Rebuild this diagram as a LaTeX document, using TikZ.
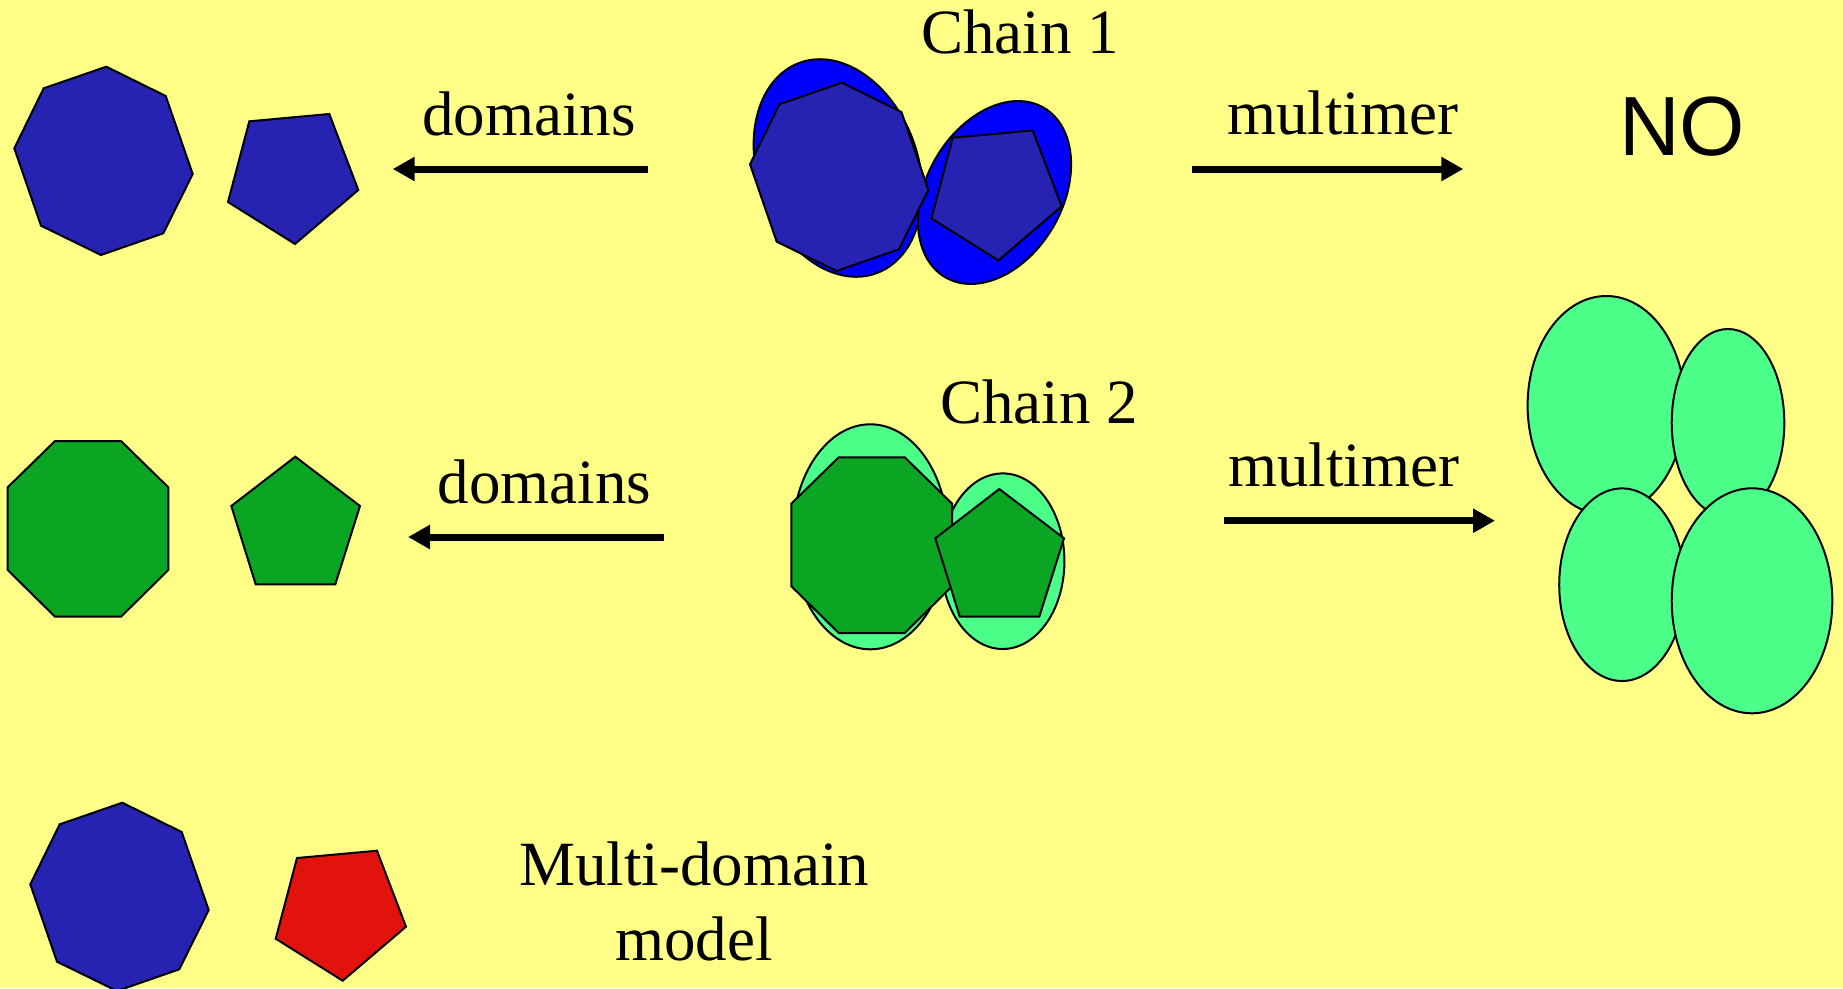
\documentclass[tikz,border=0pt]{standalone}
\usepackage{fontspec}
\setmainfont{Liberation Serif}
\newfontfamily\nofont{Liberation Sans}
\usetikzlibrary{arrows.meta}
\definecolor{bgyellow}{RGB}{255,255,136}
\definecolor{dblue}{RGB}{38,35,178}
\definecolor{bblue}{RGB}{0,0,255}
\definecolor{dgreen}{RGB}{9,165,35}
\definecolor{lgreen}{RGB}{76,255,136}
\definecolor{dred}{RGB}{226,18,12}
\tikzset{
  octA/.pic={\path[pic actions] (106.3,66.7) -- (165.7,96) -- (192.7,174) -- (163.3,233.3) -- (101,255) -- (41,225.7) -- (14.3,148.3) -- (43.7,88.3) -- cycle;},
  pentA/.pic={\path[pic actions] (249.3,121.3) -- (329.3,114) -- (358.3,190) -- (295,244) -- (228,202) -- cycle;},
  octG/.pic={\path[pic actions] (55,441) -- (121,441) -- (168.3,487.3) -- (168.3,570) -- (121,616.7) -- (55,616.7) -- (7.7,570) -- (7.7,487.3) -- cycle;},
  pentG/.pic={\path[pic actions] (295.3,456.7) -- (360,506) -- (335.3,584.3) -- (255.7,584.3) -- (231.3,506) -- cycle;},
}
\begin{document}
\begin{tikzpicture}[x=1pt,y=-1pt,
  poly/.style={draw=black,line width=2pt,line join=miter},
  bluepoly/.style={poly,fill=dblue},
  greenpoly/.style={poly,fill=dgreen},
  redpoly/.style={poly,fill=dred},
  blueell/.style={poly,fill=bblue},
  greenell/.style={poly,fill=lgreen},
  lbl/.style={font=\fontsize{63}{74}\selectfont,inner sep=0pt,anchor=base},
  arr/.style={line width=7pt,-{Triangle[length=22pt,width=23pt]}}]
\fill[bgyellow] (0,0) rectangle (1843,988);
\useasboundingbox (0,0) rectangle (1843,988);

% row 1: separated domains
\pic[bluepoly] (d1oct) at (0,0) {octA};
\pic[bluepoly] (d1pent) at (0,0) {pentA};

% chain 1
\draw[blueell, rotate around={20:(838,168)}] (838,168) ellipse [x radius=80, y radius=112];
\draw[blueell, rotate around={-30:(994.5,192.5)}] (994.5,192.5) ellipse [x radius=68, y radius=98];
\pic[bluepoly] (c1oct) at (735.7,16) {octA};
\pic[bluepoly] (c1pent) at (703.4,16.4) {pentA};

% row 2: separated domains
\pic[greenpoly] (d2oct) at (0,0) {octG};
\pic[greenpoly] (d2pent) at (0,0) {pentG};

% chain 2
\draw[greenell] (870.3,536.8) ellipse [x radius=77.7, y radius=112.5];
\draw[greenell] (1002.7,561.2) ellipse [x radius=61.7, y radius=87.8];
\pic[greenpoly] (c2oct) at (783.7,16.3) {octG};
\pic[greenpoly] (c2pent) at (704,32.3) {pentG};

% multimer of chain 2
\draw[greenell] (1606.3,405.5) ellipse [x radius=78.7, y radius=109.5];
\draw[greenell] (1728,423) ellipse [x radius=56.3, y radius=94];
\draw[greenell] (1622,584.7) ellipse [x radius=62.8, y radius=96.3];
\draw[greenell] (1752,600.8) ellipse [x radius=80.3, y radius=112.5];

% multi-domain model
\pic[bluepoly] (m1oct) at (16,736) {octA};
\pic[redpoly] (m1pent) at (47.7,736.7) {pentA};

% labels
\node[lbl] (chain1) at (1020,53.3) {Chain 1};
\node[lbl] (dom1) at (529,135) {domains};
\node[lbl] (mult1) at (1342.5,134) {multimer};
\node[lbl,font=\nofont\fontsize{84}{90}\selectfont] (no) at (1682,155) {NO};
\node[lbl] (chain2) at (1039,423) {Chain 2};
\node[lbl] (dom2) at (544.5,503) {domains};
\node[lbl] (mult2) at (1343.8,486.7) {multimer};
\node[lbl] (md1) at (694,885.7) {Multi-domain};
\node[lbl] (md2) at (694,960) {model};

% arrows
\coordinate (a1s) at (648.3,169);
\coordinate (a1e) at (392.7,169);
\coordinate (a2s) at (1191.7,169);
\coordinate (a2e) at (1463.3,169);
\coordinate (a3s) at (664,537);
\coordinate (a3e) at (408,537);
\coordinate (a4s) at (1224,520.7);
\coordinate (a4e) at (1495,520.7);
\draw[arr] (a1s) -- (a1e);
\draw[arr] (a2s) -- (a2e);
\draw[arr] (a3s) -- (a3e);
\draw[arr] (a4s) -- (a4e);
\end{tikzpicture}
\end{document}
